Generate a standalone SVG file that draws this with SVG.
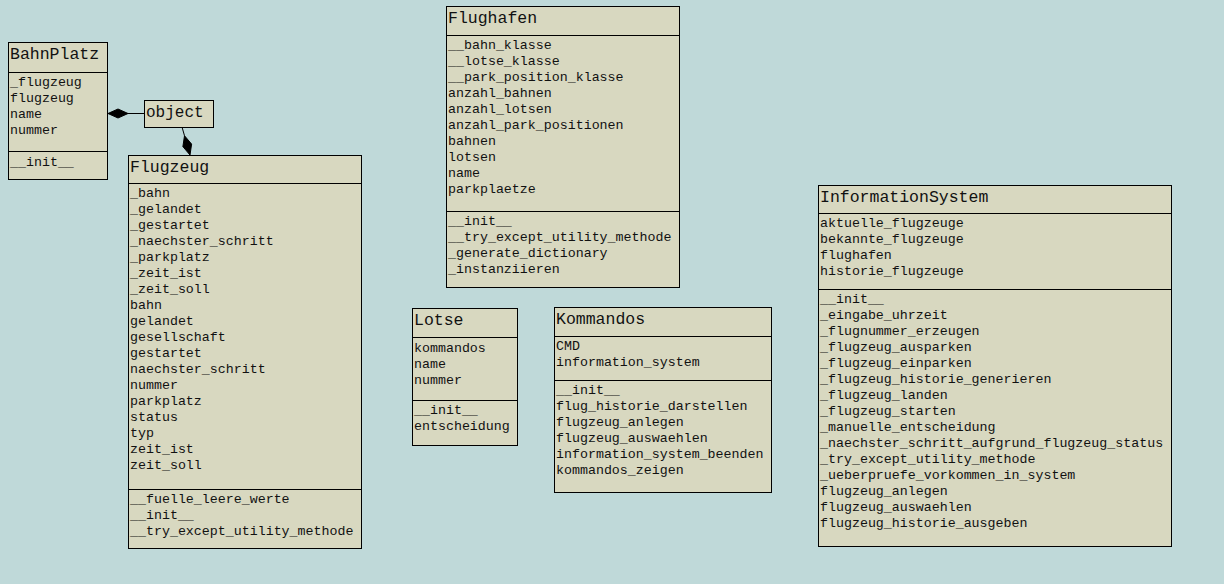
<svg xmlns="http://www.w3.org/2000/svg" width="1224" height="584" viewBox="0 0 1224 584">
<style>
.bg{fill:#BFD9D9}
.box{fill:#D8D8C0;stroke:#000;stroke-width:1}
.sep{stroke:#000;stroke-width:1}
.t{font-family:"Liberation Mono","Courier New",monospace;font-size:16.5px;fill:#111}
.m{font-family:"Liberation Mono","Courier New",monospace;font-size:13.3px;fill:#111}
.conn{stroke:#000;stroke-width:1;fill:none}
.dia{fill:#000;stroke:#000;stroke-width:1}
</style>
<rect class="bg" x="0" y="0" width="1224" height="584"/>

<g id="connectors">
<line class="conn" x1="127" y1="113.5" x2="144" y2="113.5"/>
<polygon class="dia" points="108,113.5 118,109 128,113.5 118,118"/>
<line class="conn" x1="182" y1="127" x2="184.5" y2="135.75"/>
<polygon class="dia" points="190,155 191.6,144.1 184.5,135.75 182.9,146.6"/>
</g>

<g id="BahnPlatz">
<rect class="box" x="8.5" y="42.5" width="99" height="137"/>
<line class="sep" x1="8.5" y1="72.5" x2="107.5" y2="72.5"/>
<line class="sep" x1="8.5" y1="151.5" x2="107.5" y2="151.5"/>
<text class="t" x="10" y="58.5">BahnPlatz</text>
<text class="m" x="10" y="86">_flugzeug</text>
<text class="m" x="10" y="102">flugzeug</text>
<text class="m" x="10" y="118">name</text>
<text class="m" x="10" y="134">nummer</text>
<text class="m" x="10" y="166">__init__</text>
</g>

<g id="object">
<rect class="box" x="144.5" y="100.5" width="69" height="27"/>
<text class="t" x="146" y="116.5" style="font-size:16px">object</text>
</g>

<g id="Flugzeug">
<rect class="box" x="128.5" y="155.5" width="233" height="393"/>
<line class="sep" x1="128.5" y1="183.5" x2="361.5" y2="183.5"/>
<line class="sep" x1="128.5" y1="489.5" x2="361.5" y2="489.5"/>
<text class="t" x="130" y="171.5">Flugzeug</text>
<text class="m" x="130" y="197">_bahn</text>
<text class="m" x="130" y="213">_gelandet</text>
<text class="m" x="130" y="229">_gestartet</text>
<text class="m" x="130" y="245">_naechster_schritt</text>
<text class="m" x="130" y="261">_parkplatz</text>
<text class="m" x="130" y="277">_zeit_ist</text>
<text class="m" x="130" y="293">_zeit_soll</text>
<text class="m" x="130" y="309">bahn</text>
<text class="m" x="130" y="325">gelandet</text>
<text class="m" x="130" y="341">gesellschaft</text>
<text class="m" x="130" y="357">gestartet</text>
<text class="m" x="130" y="373">naechster_schritt</text>
<text class="m" x="130" y="389">nummer</text>
<text class="m" x="130" y="405">parkplatz</text>
<text class="m" x="130" y="421">status</text>
<text class="m" x="130" y="437">typ</text>
<text class="m" x="130" y="453">zeit_ist</text>
<text class="m" x="130" y="469">zeit_soll</text>
<text class="m" x="130" y="503">__fuelle_leere_werte</text>
<text class="m" x="130" y="519">__init__</text>
<text class="m" x="130" y="535">__try_except_utility_methode</text>
</g>

<g id="Flughafen">
<rect class="box" x="446.5" y="6.5" width="233" height="281"/>
<line class="sep" x1="446.5" y1="35.5" x2="679.5" y2="35.5"/>
<line class="sep" x1="446.5" y1="211.5" x2="679.5" y2="211.5"/>
<text class="t" x="448" y="22.5">Flughafen</text>
<text class="m" x="448" y="49">__bahn_klasse</text>
<text class="m" x="448" y="65">__lotse_klasse</text>
<text class="m" x="448" y="81">__park_position_klasse</text>
<text class="m" x="448" y="97">anzahl_bahnen</text>
<text class="m" x="448" y="113">anzahl_lotsen</text>
<text class="m" x="448" y="129">anzahl_park_positionen</text>
<text class="m" x="448" y="145">bahnen</text>
<text class="m" x="448" y="161">lotsen</text>
<text class="m" x="448" y="177">name</text>
<text class="m" x="448" y="193">parkplaetze</text>
<text class="m" x="448" y="225">__init__</text>
<text class="m" x="448" y="241">__try_except_utility_methode</text>
<text class="m" x="448" y="257">_generate_dictionary</text>
<text class="m" x="448" y="273">_instanziieren</text>
</g>

<g id="Lotse">
<rect class="box" x="412.5" y="308.5" width="105" height="137"/>
<line class="sep" x1="412.5" y1="337.5" x2="517.5" y2="337.5"/>
<line class="sep" x1="412.5" y1="400.5" x2="517.5" y2="400.5"/>
<text class="t" x="414" y="324.5">Lotse</text>
<text class="m" x="414" y="352">kommandos</text>
<text class="m" x="414" y="368">name</text>
<text class="m" x="414" y="384">nummer</text>
<text class="m" x="414" y="414">__init__</text>
<text class="m" x="414" y="430">entscheidung</text>
</g>

<g id="Kommandos">
<rect class="box" x="554.5" y="307.5" width="217" height="185"/>
<line class="sep" x1="554.5" y1="336.5" x2="771.5" y2="336.5"/>
<line class="sep" x1="554.5" y1="380.5" x2="771.5" y2="380.5"/>
<text class="t" x="556" y="323.5">Kommandos</text>
<text class="m" x="556" y="350">CMD</text>
<text class="m" x="556" y="366">information_system</text>
<text class="m" x="556" y="394">__init__</text>
<text class="m" x="556" y="410">flug_historie_darstellen</text>
<text class="m" x="556" y="426">flugzeug_anlegen</text>
<text class="m" x="556" y="442">flugzeug_auswaehlen</text>
<text class="m" x="556" y="458">information_system_beenden</text>
<text class="m" x="556" y="474">kommandos_zeigen</text>
</g>

<g id="InformationSystem">
<rect class="box" x="818.5" y="185.5" width="353" height="361"/>
<line class="sep" x1="818.5" y1="213.5" x2="1171.5" y2="213.5"/>
<line class="sep" x1="818.5" y1="289.5" x2="1171.5" y2="289.5"/>
<text class="t" x="820" y="201.5">InformationSystem</text>
<text class="m" x="820" y="227">aktuelle_flugzeuge</text>
<text class="m" x="820" y="243">bekannte_flugzeuge</text>
<text class="m" x="820" y="259">flughafen</text>
<text class="m" x="820" y="275">historie_flugzeuge</text>
<text class="m" x="820" y="303">__init__</text>
<text class="m" x="820" y="319">_eingabe_uhrzeit</text>
<text class="m" x="820" y="335">_flugnummer_erzeugen</text>
<text class="m" x="820" y="351">_flugzeug_ausparken</text>
<text class="m" x="820" y="367">_flugzeug_einparken</text>
<text class="m" x="820" y="383">_flugzeug_historie_generieren</text>
<text class="m" x="820" y="399">_flugzeug_landen</text>
<text class="m" x="820" y="415">_flugzeug_starten</text>
<text class="m" x="820" y="431">_manuelle_entscheidung</text>
<text class="m" x="820" y="447">_naechster_schritt_aufgrund_flugzeug_status</text>
<text class="m" x="820" y="463">_try_except_utility_methode</text>
<text class="m" x="820" y="479">_ueberpruefe_vorkommen_in_system</text>
<text class="m" x="820" y="495">flugzeug_anlegen</text>
<text class="m" x="820" y="511">flugzeug_auswaehlen</text>
<text class="m" x="820" y="527">flugzeug_historie_ausgeben</text>
</g>
</svg>
